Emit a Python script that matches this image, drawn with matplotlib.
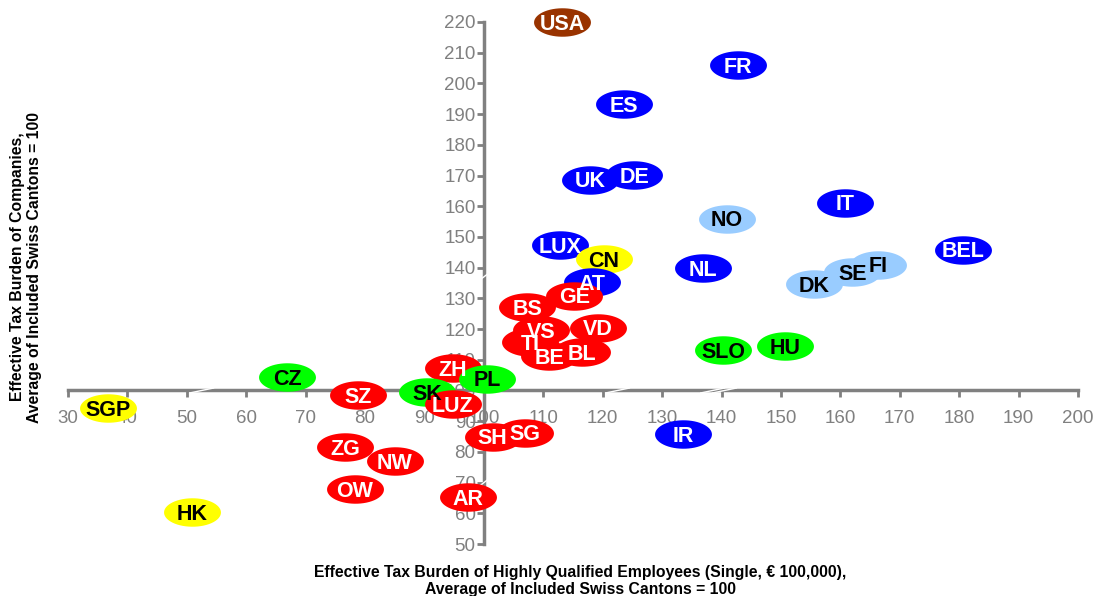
import numpy as np
import matplotlib
matplotlib.use("Agg")
import matplotlib.pyplot as plt
from matplotlib.path import Path

plt.rcParams['font.family'] = ['Liberation Sans', 'DejaVu Sans']

# data
labels = ["USA", "FR", "ES", "UK", "DE", "IT", "NO", "LUX", "CN", "BEL",
          "NL", "DK", "SE", "FI", "AT", "GE", "BS", "VS", "VD", "TI",
          "BE", "BL", "SLO", "HU", "ZH", "CZ", "SZ", "SK", "PL", "LUZ",
          "SGP", "SH", "SG", "IR", "ZG", "NW", "OW", "AR", "HK"]
employee_burden = [113.2, 142.8, 123.6, 117.9, 125.3, 160.8, 140.9, 112.8, 120.2, 180.6,
                   136.9, 155.6, 162.0, 166.3, 118.2, 115.2, 107.3, 109.6, 119.2, 107.8,
                   111.0, 116.5, 140.3, 150.7, 94.8, 66.9, 78.8, 90.4, 100.5, 94.8,
                   36.7, 101.5, 106.9, 133.5, 76.6, 85.0, 78.3, 97.3, 50.9]
company_burden = [220.0, 206.0, 193.3, 168.6, 170.2, 161.1, 155.9, 147.4, 142.8, 145.8,
                  139.9, 134.7, 138.6, 140.9, 135.3, 130.8, 127.2, 119.7, 120.4, 115.8,
                  111.2, 112.5, 113.2, 114.5, 107.3, 104.4, 98.5, 99.5, 103.8, 95.6,
                  94.3, 84.9, 86.2, 85.8, 81.6, 77.0, 67.9, 65.3, 60.4]
groups = ["us", "eu", "eu", "eu", "eu", "eu", "nordic", "eu", "asia", "eu",
          "eu", "nordic", "nordic", "nordic", "eu", "ch", "ch", "ch", "ch", "ch",
          "ch", "ch", "east", "east", "ch", "east", "ch", "east", "east", "ch",
          "asia", "ch", "ch", "eu", "ch", "ch", "ch", "ch", "asia"]

fill = {"us": "#993300", "eu": "#0000FF", "nordic": "#99CCFF", "asia": "#FFFF00",
        "ch": "#FF0000", "east": "#00FF00"}
txt = {"us": "white", "eu": "white", "nordic": "black", "asia": "black",
       "ch": "white", "east": "black"}

# ellipse marker, twice as wide as high
t = np.linspace(0, 2 * np.pi, 60)
ellipse = Path(np.column_stack([np.cos(t), 0.5 * np.sin(t)]), closed=True)

fig = plt.figure(figsize=(10.95, 5.96), dpi=100)
ax = fig.add_axes([0.0621, 0.0872, 0.9224, 0.8759])

for x, y, g in zip(employee_burden, company_burden, groups):
    ax.scatter(x, y, s=1680, marker=ellipse, color=fill[g], linewidths=0,
               zorder=5, clip_on=False)
for x, y, lab, g in zip(employee_burden, company_burden, labels, groups):
    ax.annotate(lab, (x, y), xytext=(0, -1.5), textcoords="offset points",
                ha="center", va="center", fontsize=15.5, fontweight="bold",
                color=txt[g], zorder=10, annotation_clip=False)

ax.set_xlim(30, 200)
ax.set_ylim(50, 220)
ax.set_xticks(np.arange(30, 201, 10))
ax.set_yticks(np.arange(50, 221, 10))

grey = "#808080"
ax.spines["left"].set_position(("data", 100))
ax.spines["bottom"].set_position(("data", 100))
ax.spines["right"].set_visible(False)
ax.spines["top"].set_visible(False)
for s in ["left", "bottom"]:
    ax.spines[s].set_color(grey)
    ax.spines[s].set_linewidth(2.5)
ax.tick_params(colors=grey, labelsize=13.5, width=2, length=5, direction="out")
ax.tick_params(axis="y", pad=1)
ax.tick_params(axis="x", pad=9)

# little axis-break marks
for bx in [53, 123, 139, 141]:
    ax.plot([bx - 2.5, bx + 1.5], [99.2, 100.8], color="white", lw=1, zorder=4)
for by in [137, 70]:
    ax.plot([99.2, 100.8], [by - 1.2, by + 1.2], color="white", lw=1, zorder=4)

fig.text(0.530, 0.0255, "Effective Tax Burden of Highly Qualified Employees (Single, \u20ac 100,000),\n"
         "Average of Included Swiss Cantons = 100", ha="center", va="center",
         fontsize=11.3, fontweight="bold", linespacing=1.2)
fig.text(0.024, 0.552, "Effective Tax Burden of Companies,\nAverage of Included Swiss Cantons = 100",
         ha="center", va="center", rotation=90, fontsize=11.3, fontweight="bold",
         linespacing=1.2)

fig.savefig("out.png", dpi=100)
